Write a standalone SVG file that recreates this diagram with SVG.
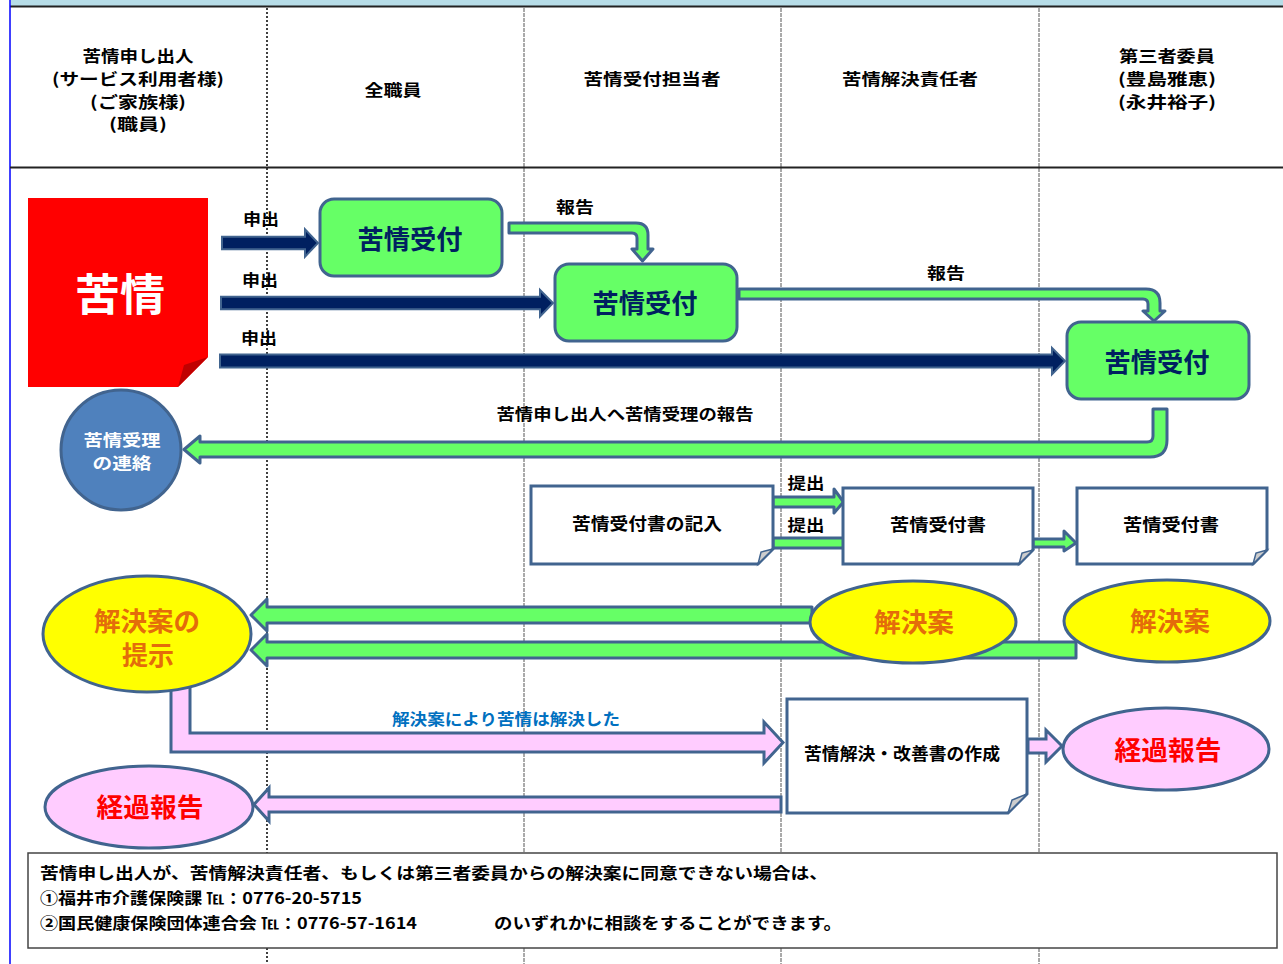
<svg xmlns="http://www.w3.org/2000/svg" width="1283" height="964" viewBox="0 0 1283 964">
<style>
text{font-family:"Noto Sans CJK JP","Noto Sans CJK SC",sans-serif;font-weight:bold;dominant-baseline:central;text-anchor:middle;}
.hd{font-size:16px;fill:#000;}
.lb{font-size:16px;fill:#000;}
.big{font-size:26px;fill:#002060;}
.org{font-size:26px;fill:#e46c0a;}
.red{font-size:26px;fill:#ff0000;}
.wh{font-size:16px;fill:#fff;}
.doc{font-size:17px;fill:#000;}
.note{font-size:16px;fill:#000;text-anchor:start;}
.navy{fill:#002060;stroke:#41648f;stroke-width:2;}
.grn{fill:#66ff66;stroke:#41648f;stroke-width:3;stroke-linejoin:round;}
.pnk{fill:#ffccff;stroke:#41648f;stroke-width:3;}
.box{fill:#66ff66;stroke:#41648f;stroke-width:3;}
.docs{fill:#fff;stroke:#41648f;stroke-width:3;stroke-linejoin:miter;}
.fold{fill:#cdcdcd;stroke:#41648f;stroke-width:1.5;}
.yel{fill:#ffff00;stroke:#41648f;stroke-width:3;}
.pel{fill:#ffccff;stroke:#41648f;stroke-width:3;}
.col{stroke:#555;stroke-width:1;stroke-dasharray:4 1;fill:none;}
</style>
<rect width="1283" height="964" fill="#fff"/>
<rect x="11" y="0" width="1272" height="6" fill="#b7dde8"/>
<line x1="10" y1="6.5" x2="1283" y2="6.5" stroke="#222" stroke-width="2"/>
<line x1="10" y1="0" x2="10" y2="964" stroke="#0000ff" stroke-width="1.5"/>
<g id="lanes">
<line x1="267" y1="8" x2="267" y2="964" stroke="#000" stroke-width="1.5" stroke-dasharray="2 2"/>
<line class="col" x1="524" y1="8" x2="524" y2="964"/>
<line class="col" x1="781" y1="8" x2="781" y2="964"/>
<line class="col" x1="1039" y1="8" x2="1039" y2="964"/>
<line x1="10" y1="167.5" x2="1283" y2="167.5" stroke="#222" stroke-width="2"/>
</g>
<g id="header">
<text class="hd" x="138" y="55" textLength="111" lengthAdjust="spacingAndGlyphs">苦情申し出人</text>
<text class="hd" x="138" y="78" textLength="172" lengthAdjust="spacingAndGlyphs">(サービス利用者様)</text>
<text class="hd" x="138" y="100.5" textLength="96" lengthAdjust="spacingAndGlyphs">(ご家族様)</text>
<text class="hd" x="138" y="123" textLength="58" lengthAdjust="spacingAndGlyphs">(職員)</text>
<text class="hd" x="393" y="89" textLength="57" lengthAdjust="spacingAndGlyphs">全職員</text>
<text class="hd" x="652" y="78" textLength="137" lengthAdjust="spacingAndGlyphs">苦情受付担当者</text>
<text class="hd" x="910" y="78" textLength="136" lengthAdjust="spacingAndGlyphs">苦情解決責任者</text>
<text class="hd" x="1167" y="55" textLength="96" lengthAdjust="spacingAndGlyphs">第三者委員</text>
<text class="hd" x="1167" y="78" textLength="98" lengthAdjust="spacingAndGlyphs">(豊島雅恵)</text>
<text class="hd" x="1167" y="100.5" textLength="98" lengthAdjust="spacingAndGlyphs">(永井裕子)</text>
</g>
<g id="connectors">
<polygon class="navy" points="222,236.7 305,236.7 305,229.3 318,243 305,256.7 305,249.3 222,249.3"/>
<polygon class="navy" points="221,296.7 540,296.7 540,290 553,303 540,316.5 540,309.3 221,309.3"/>
<polygon class="navy" points="220,354.5 1052,354.5 1052,348 1065,361 1052,374.3 1052,367.5 220,367.5"/>
<text class="lb" x="261" y="218" textLength="36" lengthAdjust="spacingAndGlyphs">申出</text>
<text class="lb" x="260" y="279" textLength="36" lengthAdjust="spacingAndGlyphs">申出</text>
<text class="lb" x="259" y="337" textLength="36" lengthAdjust="spacingAndGlyphs">申出</text>
<path class="grn" d="M509,223 H636 Q648,223 648,235 V249 H653 L642.5,261 L632,249 H637 V238 Q637,233 632,233 H509 Z"/>
<text class="lb" x="575" y="206" textLength="38" lengthAdjust="spacingAndGlyphs">報告</text>
<path class="grn" d="M739,289 H1146 Q1160,289 1160,303 V311 H1165 L1154,321 L1143,311 H1148 V304 Q1148,299 1143,299 H739 Z"/>
<text class="lb" x="946" y="272" textLength="38" lengthAdjust="spacingAndGlyphs">報告</text>
<path class="grn" d="M1153,409 H1167 V440 Q1167,457 1150,457 H200 V463 L184,449.5 L200,436 V442 H1147 Q1153,442 1153,436 Z"/>
<text class="lb" x="625" y="413" textLength="257" lengthAdjust="spacingAndGlyphs">苦情申し出人へ苦情受理の報告</text>
<polygon class="grn" points="773,497 834,497 834,489 843.5,502 834,513 834,507 773,507"/>
<polygon class="grn" points="773,538 850,538 850,548 773,548"/>
<text class="lb" x="806" y="482" textLength="37" lengthAdjust="spacingAndGlyphs">提出</text>
<text class="lb" x="806" y="523.5" textLength="37" lengthAdjust="spacingAndGlyphs">提出</text>
<polygon class="grn" points="1033,539 1064,539 1064,531 1076,543 1064,551 1064,547 1033,547"/>
<path class="grn" d="M812,607 H267 V599 L251,615 L267,631 V623 H812 Z"/>
<path class="grn" d="M1076,642 H267 V634 L251,650 L267,666 V658 H1076 Z"/>
<path class="pnk" d="M171,680 H190 V733 H764 V722 L783,742.5 L764,763 V752 H171 Z"/>
<text x="506" y="718" style="font-size:16px;fill:#0070c0" textLength="228" lengthAdjust="spacingAndGlyphs">解決案により苦情は解決した</text>
<path class="pnk" d="M1028,739 H1046 V730 L1062,746 L1046,762 V753 H1028 Z"/>
<path class="pnk" d="M781,797 H269 V788 L254,804.5 L269,821 V812 H781 Z"/>
</g>
<g id="kujo">
<path d="M28,198 H208 V357 L178,387 H28 Z" fill="#ff0000"/>
<path d="M208,357 L178,387 L184,365 Z" fill="#c00000"/>
<text x="120" y="292" style="font-size:44px;fill:#fff" textLength="90" lengthAdjust="spacingAndGlyphs">苦情</text>
</g>
<g id="uketsuke1">
<rect class="box" x="320" y="199" width="182" height="77" rx="14"/>
<text class="big" x="410" y="237" textLength="105" lengthAdjust="spacingAndGlyphs">苦情受付</text>
</g>
<g id="uketsuke2">
<rect class="box" x="555" y="264" width="182" height="77" rx="14"/>
<text class="big" x="645" y="301" textLength="105" lengthAdjust="spacingAndGlyphs">苦情受付</text>
</g>
<g id="uketsuke3">
<rect class="box" x="1067" y="322" width="182" height="77" rx="14"/>
<text class="big" x="1157" y="360" textLength="105" lengthAdjust="spacingAndGlyphs">苦情受付</text>
</g>
<g id="juri">
<ellipse cx="121" cy="450" rx="60" ry="60" fill="#4f81bd" stroke="#41648f" stroke-width="3"/>
<text class="wh" x="122" y="439" textLength="77" lengthAdjust="spacingAndGlyphs">苦情受理</text>
<text class="wh" x="122" y="462" textLength="59" lengthAdjust="spacingAndGlyphs">の連絡</text>
</g>
<g id="doc1">
<path class="docs" d="M531,486 H773 V549 L758,564 H531 Z"/>
<path class="fold" d="M773,549 L758,564 L761,552 Z"/>
<text class="doc" x="647" y="522" textLength="150" lengthAdjust="spacingAndGlyphs">苦情受付書の記入</text>
</g>
<g id="doc2">
<path class="docs" d="M843,488 H1033 V550 L1019,564 H843 Z"/>
<path class="fold" d="M1033,550 L1019,564 L1022,553 Z"/>
<text class="doc" x="938" y="523" textLength="96" lengthAdjust="spacingAndGlyphs">苦情受付書</text>
</g>
<g id="doc3">
<path class="docs" d="M1077,488 H1267 V550 L1253,564 H1077 Z"/>
<path class="fold" d="M1267,550 L1253,564 L1256,553 Z"/>
<text class="doc" x="1171" y="523" textLength="96" lengthAdjust="spacingAndGlyphs">苦情受付書</text>
</g>
<g id="teiji">
<ellipse class="yel" cx="147" cy="634" rx="104" ry="58"/>
<text class="org" x="147" y="619" textLength="106" lengthAdjust="spacingAndGlyphs">解決案の</text>
<text class="org" x="148" y="653" textLength="52" lengthAdjust="spacingAndGlyphs">提示</text>
</g>
<g id="kaiketsuan1">
<ellipse class="yel" cx="913" cy="622" rx="103" ry="41"/>
<text class="org" x="914" y="620" textLength="80" lengthAdjust="spacingAndGlyphs">解決案</text>
</g>
<g id="kaiketsuan2">
<ellipse class="yel" cx="1167" cy="621" rx="103" ry="41"/>
<text class="org" x="1170" y="619" textLength="80" lengthAdjust="spacingAndGlyphs">解決案</text>
</g>
<g id="kaizen">
<path class="docs" d="M787,699 H1027 V794 L1008,813 H787 Z"/>
<path class="fold" d="M1027,794 L1008,813 L1012,800 Z"/>
<text class="doc" x="902" y="752" textLength="196" lengthAdjust="spacingAndGlyphs">苦情解決・改善書の作成</text>
</g>
<g id="keika1">
<ellipse class="pel" cx="1166" cy="749" rx="103" ry="41"/>
<text class="red" x="1168" y="748.5" textLength="107" lengthAdjust="spacingAndGlyphs">経過報告</text>
</g>
<g id="keika2">
<ellipse class="pel" cx="149" cy="807" rx="104" ry="41"/>
<text class="red" x="150" y="805" textLength="107" lengthAdjust="spacingAndGlyphs">経過報告</text>
</g>
<g id="note">
<rect x="28" y="853" width="1249" height="95" fill="#fff" stroke="#444" stroke-width="1.5"/>
<text class="note" x="40" y="872" textLength="788" lengthAdjust="spacingAndGlyphs">苦情申し出人が、苦情解決責任者、もしくは第三者委員からの解決案に同意できない場合は、</text>
<text class="note" x="40" y="897" textLength="322" lengthAdjust="spacingAndGlyphs">①福井市介護保険課 ℡：0776-20-5715</text>
<text class="note" x="40" y="922" textLength="377" lengthAdjust="spacingAndGlyphs">②国民健康保険団体連合会 ℡：0776-57-1614</text>
<text class="note" x="494" y="922" textLength="348" lengthAdjust="spacingAndGlyphs">のいずれかに相談をすることができます。</text>
</g>
</svg>
